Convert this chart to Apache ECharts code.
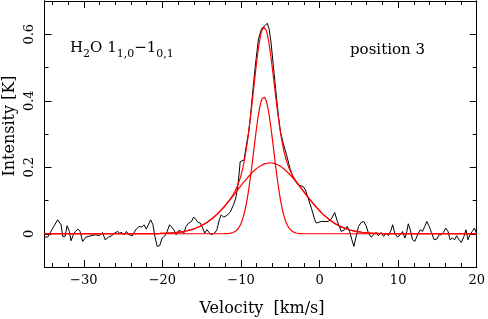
<!DOCTYPE html>
<html><head><meta charset="utf-8">
<script src="https://cdn.jsdelivr.net/npm/echarts@6/dist/echarts.min.js"></script>
<style>html,body{margin:0;padding:0;background:#fff}#c{width:488px;height:319px}</style>
</head><body><div id="c"></div>
<script>
// Observed spectrum (velocity in km/s, intensity in K)
const velocity = [-35,-34.58,-33.95,-33.32,-32.89,-32.68,-32.38,-32.13,-31.84,-31.62,-31.33,-31.08,-30.73,-30.48,-30.15,-29.72,-29.09,-28.46,-28.04,-27.62,-27.28,-26.86,-26.43,-26.14,-25.72,-25.42,-25.16,-24.87,-24.58,-24.24,-23.82,-23.39,-22.97,-22.63,-22.34,-22.05,-21.84,-21.49,-21.2,-20.95,-20.66,-20.35,-20.03,-19.68,-19.39,-19.09,-18.84,-18.54,-18.25,-17.91,-17.57,-17.28,-16.99,-16.65,-16.3,-16.01,-15.72,-15.47,-15.16,-14.87,-14.62,-14.33,-14.11,-13.82,-13.61,-13.35,-13.06,-12.76,-12.51,-12.22,-11.8,-11.37,-10.95,-10.66,-10.41,-10.23,-10.1,-9.85,-9.6,-9.34,-9.05,-8.84,-8.63,-8.2,-7.78,-7.37,-6.94,-6.65,-6.43,-6.18,-5.89,-5.59,-5.25,-4.96,-4.62,-4.2,-3.77,-3.35,-2.72,-2.09,-1.8,-1.46,-1.04,-0.61,-0.41,0.23,1.08,1.49,1.92,2.25,2.76,3.19,3.52,3.82,4.11,4.37,4.66,4.96,5.29,5.63,5.92,6.23,6.56,6.9,7.19,7.49,7.82,8.16,8.46,8.76,9.09,9.3,9.59,9.94,10.28,10.57,10.86,11.11,11.29,11.54,11.84,12.13,12.47,12.81,13.1,13.39,13.65,13.95,14.24,14.58,14.91,15.22,15.51,15.76,16.05,16.35,16.61,16.9,17.19,17.44,17.75,18.04,18.38,18.63,18.89,19.14,19.43,19.72,19.97];
const intensity = [-0.01,-0.01,0.017,0.042,0.027,-0.008,-0.008,0.024,0.007,-0.021,-0.003,0.007,0.014,0.007,-0.023,-0.01,-0.006,-0.003,-0.006,0.004,-0.018,-0.01,-0.006,0.001,0.007,0.002,0.004,-0.003,0.007,-0.003,-0.006,0.012,0.022,0.02,0.027,0.014,0.024,0.042,0.027,-0.008,-0.038,-0.036,-0.013,-0.006,0.007,0.027,0.032,0.012,-0.003,0.01,0.007,0.001,0.022,0.032,0.037,0.05,0.042,0.034,0.032,0.017,0.002,0.012,0.014,-0.003,-0.008,0.002,0.012,0.042,0.057,0.05,0.055,0.065,0.087,0.107,0.142,0.182,0.217,0.22,0.222,0.262,0.302,0.342,0.395,0.5,0.585,0.617,0.626,0.633,0.617,0.577,0.507,0.437,0.357,0.305,0.272,0.237,0.197,0.167,0.147,0.142,0.132,0.107,0.077,0.042,0.032,0.037,0.037,0.044,0.064,0.038,0.007,0.012,0.022,0.007,-0.018,-0.038,-0.008,0.022,0.034,0.037,0.024,0.002,-0.01,-0.003,0.004,-0.006,0.004,-0.008,0.002,-0.006,0.01,0.027,0,-0.01,-0.003,0.007,-0.013,0.007,0.03,0.012,-0.018,-0.023,-0.003,0.012,0.007,0.022,0.037,0.022,0.004,-0.018,-0.016,-0.003,-0.003,0.004,0.017,0.007,-0.018,-0.013,-0.018,-0.006,-0.018,-0.026,-0.008,0.012,-0.018,-0.003,0.007,0.017,0];

// Gaussian fit components (narrow, broad)
const fitAmplitude = [0.412, 0.213];
const fitCenter = [-7.1, -6.3];
const fitFWHM = [3.0, 9.9];

// Ticks
const xMajorTicks = [-30,-20,-10,0,10,20];
const xMinorTicks = [-34,-32,-30,-28,-26,-24,-22,-20,-18,-16,-14,-12,-10,-8,-6,-4,-2,0,2,4,6,8,10,12,14,16,18,20];
const yMajorTicks = [0,0.2,0.4,0.6];
const yMinorTicks = [-0.1,0,0.1,0.2,0.3,0.4,0.5,0.6,0.7];

const X_MIN = -35, X_MAX = 20, Y_MIN = -0.1, Y_MAX = 0.7;

const spectrum = velocity.map((v,i)=>[v,intensity[i]]);
function gauss(k, v){
  const s = fitFWHM[k]/2.35482;
  return fitAmplitude[k]*Math.exp(-0.5*((v-fitCenter[k])/s)**2);
}
const modelV = [];
for (let i=0;i<=550;i++) modelV.push(X_MIN + i*0.1);
const narrow = modelV.map(v=>[v,gauss(0,v)]);
const broad = modelV.map(v=>[v,gauss(1,v)]);
const total = modelV.map(v=>[v,gauss(0,v)+gauss(1,v)]);

const FONT = 'DejaVu Serif';
const fmt = v => (v<0 ? '\u2212'+Math.abs(v) : String(+v.toFixed(1)));

function xAx(pos, ticks, len, showLabel){
  return {type:'value', position:pos, min:X_MIN, max:X_MAX,
    axisLine:{show:true,onZero:false,lineStyle:{color:'#000',width:1}},
    axisTick:{show:true,inside:true,length:len,customValues:ticks,lineStyle:{color:'#000',width:1}},
    axisLabel:{show:showLabel,customValues:ticks,formatter:fmt,color:'#000',fontFamily:FONT,fontSize:13,margin:7},
    splitLine:{show:false}};
}
function yAx(pos, ticks, len, showLabel){
  return {type:'value', position:pos, min:Y_MIN, max:Y_MAX,
    axisLine:{show:true,onZero:false,lineStyle:{color:'#000',width:1}},
    axisTick:{show:true,inside:true,length:len,customValues:ticks,lineStyle:{color:'#000',width:1}},
    axisLabel:{show:showLabel,customValues:ticks,formatter:fmt,rotate:90,color:'#000',fontFamily:FONT,fontSize:13,margin:8},
    splitLine:{show:false}};
}

const chart = echarts.init(document.getElementById('c'), null, {renderer:'canvas'});
chart.setOption({
  animation:false,
  backgroundColor:'#fff',
  grid:{left:44.5,right:8.5,top:1,bottom:52,containLabel:false},
  xAxis:[xAx('bottom',xMajorTicks,7,true), xAx('bottom',xMinorTicks,4,false), xAx('top',xMajorTicks,7,false), xAx('top',xMinorTicks,4,false)],
  yAxis:[yAx('left',yMajorTicks,7,true), yAx('left',yMinorTicks,4,false), yAx('right',yMajorTicks,7,false), yAx('right',yMinorTicks,4,false)],
  series:[
    {type:'line',data:spectrum,showSymbol:false,lineStyle:{color:'#000',width:1},z:2},
    {type:'line',data:broad,showSymbol:false,lineStyle:{color:'#ff0000',width:1.2},z:3},
    {type:'line',data:narrow,showSymbol:false,lineStyle:{color:'#ff0000',width:1.2},z:3},
    {type:'line',data:total,showSymbol:false,lineStyle:{color:'#ff0000',width:1.2},z:3}
  ],
  graphic:[
    {type:'text',left:70,top:41,style:{
      text:'{m|H}{s|2}{m|O 1}{s|1,0}{m|\u22121}{s|0,1}',
      rich:{m:{fontFamily:FONT,fontSize:15,lineHeight:22,verticalAlign:'middle',fill:'#000'},
            s:{fontFamily:FONT,fontSize:11,lineHeight:22,verticalAlign:'bottom',fill:'#000'}}}},
    {type:'text',x:350,y:50,style:{text:'position 3',fontFamily:FONT,fontSize:15,fill:'#000',textAlign:'left',textVerticalAlign:'middle'}},
    {type:'text',x:262,y:309,style:{text:'Velocity  [km/s]',fontFamily:FONT,fontSize:16,fill:'#000',textAlign:'center',textVerticalAlign:'middle'}},
    {type:'text',x:10,y:126,rotation:Math.PI/2,style:{text:'Intensity [K]',fontFamily:FONT,fontSize:16,fill:'#000',textAlign:'center',textVerticalAlign:'middle'}}
  ]
});
</script></body></html>
